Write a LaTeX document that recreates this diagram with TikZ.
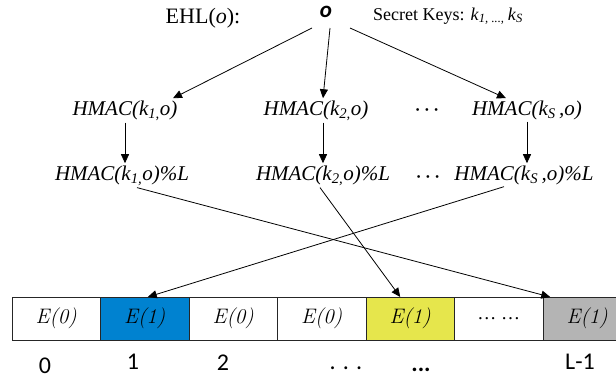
\RequirePackage{fix-cm}
\documentclass[tikz,border=0pt]{standalone}
\usepackage{fontspec}
\setmainfont{Liberation Serif}
\newfontfamily\calfont{Carlito}
\newfontfamily\lmfont{Latin Modern Roman}
\usetikzlibrary{arrows.meta,calc}
\definecolor{cellblue}{RGB}{0,130,208}
\definecolor{cellyellow}{RGB}{230,230,76}
\definecolor{cellgrey}{RGB}{180,180,180}

\begin{document}
\begin{tikzpicture}[x=1pt, y=-1pt,
  arr/.style={black, line width=0.8pt, -{Triangle[length=9pt,width=8pt]}},
  hm/.style={inner sep=2pt, font=\fontsize{21}{23}\selectfont\itshape},
  dts/.style={inner sep=2pt, font=\fontsize{18}{20}\selectfont},
  cell/.style={draw=black!85, line width=1pt, minimum width=88.5pt, minimum height=43pt, inner sep=0pt, outer sep=0pt, font=\fontsize{21}{23}\selectfont\lmfont\itshape},
  idx/.style={font=\fontsize{24}{26}\selectfont\calfont}]
\clip (0,0) rectangle (616,386);
\node[anchor=base, font=\fontsize{22}{24}\selectfont] (ehl) at (203,23) {EHL(\textit{o}):};
\node[anchor=base, font=\fontsize{23}{25}\selectfont\calfont\bfseries\itshape] (o) at (326,17) {o};
\node[anchor=base west, inner sep=0pt, font=\fontsize{18}{20}\selectfont] (keys) at (373,20) {Secret Keys: \textit{k}\textsubscript{\textit{1, ..., }}\textit{k}\textsubscript{\textit{S}}};
\node[hm, anchor=base] (h1) at (125,115) {HMAC(k\textsubscript{1,}o)};
\node[hm, anchor=base] (h2) at (316,115) {HMAC(k\textsubscript{2,}o)};
\node[dts] (d1) at (427,110) {{\mathversion{bold}$\cdots$}};
\node[hm, anchor=base] (h3) at (527,115) {HMAC(k\textsubscript{S}\,,o)};
\node[hm, anchor=base] (m1) at (122,180) {HMAC(k\textsubscript{1,}o)\%L};
\node[hm, anchor=base] (m2) at (323,180) {HMAC(k\textsubscript{2,}o)\%L};
\node[dts] (d2) at (428,177) {{\mathversion{bold}$\cdots$}};
\node[hm, anchor=base] (m3) at (524,180) {HMAC(k\textsubscript{S}\,,o)\%L};
\node[cell] (b0) at (56.25,318.5) {E(0)};
\node[cell, fill=cellblue] (b1) at (144.75,318.5) {E(1)};
\node[cell] (b2) at (233.25,318.5) {E(0)};
\node[cell] (b3) at (321.75,318.5) {E(0)};
\node[cell, fill=cellyellow] (b4) at (410.25,318.5) {E(1)};
\node[cell, font=\fontsize{19}{21}\selectfont] (b5) at (498.75,318.5) {\ldots\ \ldots};
\node[cell, fill=cellgrey] (b6) at (587.25,318.5) {E(1)};
\node[idx] (n0) at (45,366) {0};
\node[idx] (n1) at (133,362) {1};
\node[idx] (n2) at (223,363) {2};
\node[idx] (n3) at (346,368) {. . .};
\node[idx, font=\fontsize{24}{26}\selectfont\calfont\bfseries] (n4) at (421,370) {...};
\node[idx] (n6) at (580,362) {L-1};
\coordinate (oL) at (312,28);
\coordinate (oM) at (330,28);
\coordinate (oR) at (350,28);
\draw[arr] (oL) -- ([xshift=48pt]h1.north);
\draw[arr] (oM) -- ([xshift=7pt]h2.north);
\draw[arr] (oR) -- ([xshift=-21pt]h3.north);
\draw[arr] (h1.south) -- (h1.south |- m1.north);
\draw[arr] (h2.south -| m2.north) -- (m2.north);
\draw[arr] (h3.south) -- (h3.south |- m3.north);
\draw[arr] ([xshift=15pt]m1.south) -- ([xshift=-37pt]b6.north);
\draw[arr] ([xshift=-3pt]m2.south) -- ([xshift=-10pt]b4.north);
\draw[arr] ([xshift=-20pt]m3.south) -- ([xshift=3pt]b1.north);
\end{tikzpicture}
\end{document}
